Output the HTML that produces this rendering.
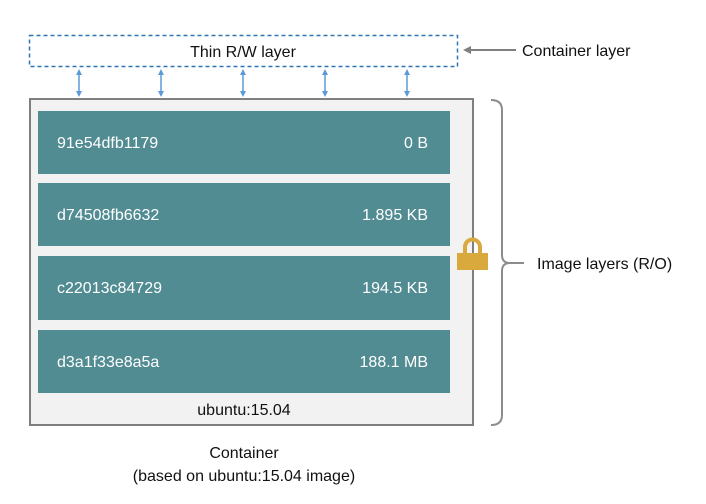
<!DOCTYPE html>
<html><head><style>
body{margin:0;background:#fff;}
svg text{font-family:"Liberation Sans",sans-serif;fill:#111;}
svg text.w{fill:#fff;}
</style></head><body>
<svg width="706" height="499" viewBox="0 0 706 499" xmlns="http://www.w3.org/2000/svg">
<defs>
<marker id="ab" markerWidth="6" markerHeight="6" refX="3" refY="3" orient="auto-start-reverse" markerUnits="userSpaceOnUse"><path d="M0,0 L6,3 L0,6 z" fill="#5b9bd5"/></marker>
</defs>
<rect x="29.5" y="35.5" width="428" height="31" fill="#fff" stroke="#2e75b6" stroke-width="1.5" stroke-dasharray="4,3"/>
<text x="243" y="57" font-size="16" text-anchor="middle">Thin R/W layer</text>
<line x1="516" y1="50" x2="468" y2="50" stroke="#7f7f7f" stroke-width="2"/>
<path d="M471,46 L463,50 L471,54 z" fill="#7f7f7f"/>
<text x="522" y="56" font-size="16">Container layer</text>
<g stroke="#5b9bd5" stroke-width="1.5" marker-start="url(#ab)" marker-end="url(#ab)">
<line x1="79" y1="72" x2="79" y2="94"/><line x1="161" y1="72" x2="161" y2="94"/><line x1="243" y1="72" x2="243" y2="94"/><line x1="325" y1="72" x2="325" y2="94"/><line x1="407" y1="72" x2="407" y2="94"/>
</g>
<rect x="30" y="99" width="443" height="326" fill="#f2f2f2" stroke="#7f7f7f" stroke-width="2"/>
<g fill="#528c93">
<rect x="38" y="111" width="412" height="63"/>
<rect x="38" y="183" width="412" height="63"/>
<rect x="38" y="256" width="412" height="64"/>
<rect x="38" y="330" width="412" height="63"/>
</g>
<g font-size="16">
<text class="w" x="57" y="148">91e54dfb1179</text><text class="w" x="428" y="148" text-anchor="end">0 B</text>
<text class="w" x="57" y="220">d74508fb6632</text><text class="w" x="428" y="220" text-anchor="end">1.895 KB</text>
<text class="w" x="57" y="293">c22013c84729</text><text class="w" x="428" y="293" text-anchor="end">194.5 KB</text>
<text class="w" x="57" y="367">d3a1f33e8a5a</text><text class="w" x="428" y="367" text-anchor="end">188.1 MB</text>
</g>
<text x="244" y="415" font-size="16" text-anchor="middle">ubuntu:15.04</text>
<path d="M465,254 L465,247 A7.5,7.5 0 0 1 480,247 L480,254" fill="none" stroke="#d9a93e" stroke-width="4"/>
<rect x="457" y="253" width="31" height="17" fill="#d9a93e"/>
<path d="M491,100 Q502,100 502,110 L502,255 Q502,263 510,263 Q502,263 502,271 L502,415 Q502,425 491,425" fill="none" stroke="#8c8c8c" stroke-width="2"/>
<line x1="510" y1="263" x2="524" y2="263" stroke="#8c8c8c" stroke-width="2"/>
<text x="537" y="269" font-size="16">Image layers (R/O)</text>
<text x="244" y="458" font-size="16" text-anchor="middle">Container</text>
<text x="244" y="481" font-size="16" text-anchor="middle">(based on ubuntu:15.04 image)</text>
</svg>
</body></html>
